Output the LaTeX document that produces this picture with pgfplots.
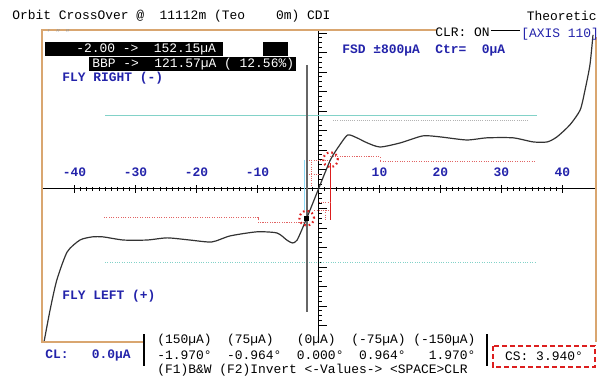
\documentclass[border=0pt]{standalone}
\usepackage{pgfplots}
\pgfplotsset{compat=1.18}
\usepackage{fontspec}
\setmainfont{Liberation Mono}
\definecolor{frameor}{RGB}{217,166,112}
\definecolor{dosblue}{RGB}{35,35,170}
\definecolor{tealc}{RGB}{130,210,200}
\definecolor{redl}{RGB}{225,100,100}
\definecolor{redc}{RGB}{220,30,30}
\newcommand\T{\fontsize{9.7pt}{11pt}\selectfont}
\begin{document}
\begin{tikzpicture}
\useasboundingbox (0,0) rectangle (453.75pt,285pt);
\begin{axis}[
 at={(31.5pt,28.5pt)}, anchor=south west,
 scale only axis, width=414.75pt, height=234pt,
 xmin=-45.33, xmax=45.33, ymin=-785, ymax=815,
 axis lines=middle,
 axis line style={-, black, line width=0.8pt},
 tick align=center,
 xtick={-40,-30,-20,-10,0,10,20,30,40},
 xticklabels={-40,-30,-20,-10,,10,20,30,40},
 minor x tick num=9,
 ytick={-700,-600,...,800},
 yticklabels={},
 minor y tick num=3,
 major tick length=6pt,
 minor tick length=2.5pt,
 every tick/.style={black, line width=0.6pt},
 every major y tick/.append style={xshift=3pt},
 every minor y tick/.append style={xshift=1.25pt},
 xticklabel style={font=\T\bfseries, text=dosblue, anchor=south, yshift=9pt},
 clip=false,
]
% teal guide lines
\addplot[tealc, line width=0.7pt] coordinates {(-35,379) (35.8,379)};
\addplot[tealc, line width=0.8pt, densely dotted] coordinates {(-35,-379) (35.8,-379)};
\addplot[black!30, line width=0.6pt, densely dotted] coordinates {(2.4,349) (34.5,349)};
% red step lines
\addplot[redl, line width=0.8pt, densely dotted] coordinates {(1.9,165) (10.1,165) (10.1,140) (35.5,140)};
\addplot[redl, line width=0.8pt, densely dotted] coordinates {(-1.93,-170) (-9.9,-170) (-9.9,-147) (-35.3,-147)};
\addplot[redl, line width=0.7pt, densely dotted] coordinates {(-1.93,145) (1.9,145)};
\addplot[redl, line width=0.7pt, densely dotted] coordinates {(-1.93,75) (0,75)};
\addplot[redl, line width=0.7pt, densely dotted] coordinates {(-1.1,149) (-1.1,10)};
\addplot[redc, line width=0.7pt] coordinates {(1.9,133) (1.9,-159)};
\addplot[redl, line width=0.7pt, densely dotted] coordinates {(0,-72) (1.9,-72)};
\addplot[redl, line width=0.7pt, densely dotted] coordinates {(-0.7,-108) (1.9,-108)};
\addplot[redl, line width=0.7pt, densely dotted] coordinates {(1.07,-108) (1.07,-159)};
% cyan vertical and needle
\addplot[cyan!45, line width=1.2pt] coordinates {(-2.3,150) (-2.3,-110)};
\addplot[black!60, line width=1.5pt] coordinates {(-1.93,636) (-1.93,-631)};
% CDI curve
\addplot[black!80, line width=0.9pt, smooth, tension=0.4] coordinates {
(-45.0,-785) (-44.0,-620) (-42.9,-467) (-41.2,-323) (-39.1,-262) (-37.1,-246)
(-35.3,-246) (-32.0,-262) (-28.1,-262) (-24.8,-251) (-21.1,-262) (-17.5,-272)
(-14.5,-241) (-10.1,-220) (-6.8,-226) (-5.2,-262) (-4.3,-277) (-3.5,-262)
(-1.93,-150) (0,0) (1.97,150) (3.5,226) (4.8,277) (6.3,262) (8.0,236) (10.1,215)
(13.4,236) (17.1,272) (19.9,267) (24.3,251) (27.6,262) (31.9,262) (35.2,241)
(37.5,241) (39.1,267) (41.2,328) (42.9,405) (43.7,508) (44.5,636) (45.0,790)};
% crossover circles
\addplot[only marks, mark=o, mark size=5.5pt, mark options={redc, line width=1.6pt, dash pattern=on 1.2pt off 2.2pt}] coordinates {(-1.93,-150) (1.97,150)};
\addplot[only marks, mark=square*, mark size=1.5pt, black] coordinates {(-1.93,-150)};
\end{axis}
\begin{scope}[shift={(0pt,285pt)}, x=0.75pt, y=-0.75pt]
% frame
\draw[frameor, line width=1pt] (436,30) -- (42,30) -- (42,342) -- (143,342);
\draw[frameor, line width=1pt] (596,37) -- (596,342);
\draw[black, line width=0.8pt] (491,30.5) -- (520,30.5);
\tikzset{every node/.style={inner sep=0pt, font=\T}}
\node[anchor=west] at (12,16) {Orbit CrossOver @~~11112m (Teo~~~~0m) CDI};
\node[anchor=east] at (597,16) {Theoretic};
\node[anchor=west] at (435,32) {CLR: ON};
\node[anchor=west, text=dosblue] at (521,34) {[AXIS 110]};
\node[anchor=west, text=black!40, font=\fontsize{6pt}{6pt}\selectfont] at (46,33) {'~''~''};
% black boxes
\fill[black] (45,42) rectangle (223,56);
\fill[black] (263,42) rectangle (288,56);
\fill[black] (89,57) rectangle (296,71);
\node[anchor=west, text=white] at (76,49) {-2.00~->~~152.15µA};
\node[anchor=west, text=white] at (92,64) {BBP~->~~121.57µA~(~12.56\%)};
\node[anchor=west, text=dosblue, font=\T\bfseries] at (62,78) {FLY RIGHT (-)};
\node[anchor=west, text=dosblue, font=\T\bfseries] at (342,50) {FSD ±800µA~~Ctr=~~0µA};
\node[anchor=west, text=dosblue, font=\T\bfseries] at (62,296) {FLY LEFT (+)};
% bottom panel
\node[anchor=west, text=dosblue, font=\T\bfseries] at (45,355) {CL:~~~0.0µA};
\draw[black, line width=1.2pt] (144,334) -- (144,366);
\draw[black, line width=1.2pt] (487,334) -- (487,366);
\node[anchor=west] at (157,340) {(150µA)~~(75µA)~~~(0µA)~~(-75µA)~(-150µA)};
\node[anchor=west] at (157,355) {-1.970°~~-0.964°~~0.000°~~0.964°~~~1.970°};
\node[anchor=west] at (157,370) {(F1)B\&W~(F2)Invert~<-Values->~<SPACE>CLR};
\draw[redc, line width=1.5pt, dash pattern=on 4pt off 2pt] (493,346) rectangle (595,367);
\node at (544,356.5) {CS: 3.940°};
\end{scope}
\end{tikzpicture}
\end{document}
